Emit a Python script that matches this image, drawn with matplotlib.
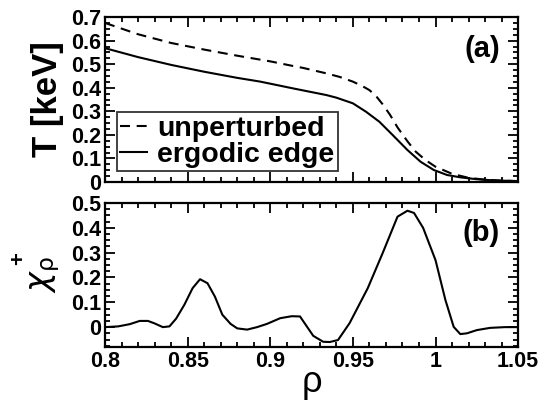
import matplotlib
matplotlib.use("Agg")
import matplotlib.pyplot as plt
from matplotlib.ticker import MultipleLocator

plt.rcParams['font.family'] = ['Liberation Sans', 'DejaVu Sans']
plt.rcParams['font.weight'] = 'normal'
plt.rcParams['mathtext.fontset'] = 'dejavusans'

# Panel (a): temperature profiles
rho_unpert = [0.80, 0.82, 0.84, 0.86, 0.88, 0.90, 0.914, 0.92, 0.934, 0.942, 0.95, 0.956,
              0.960, 0.964, 0.968, 0.9725, 0.977, 0.983, 0.988, 0.994, 1.00, 1.01, 1.02,
              1.03, 1.04, 1.05]
T_unpert = [0.675, 0.627, 0.590, 0.562, 0.536, 0.512, 0.492, 0.484, 0.461, 0.446, 0.426, 0.406,
            0.390, 0.365, 0.330, 0.285, 0.232, 0.173, 0.129, 0.093, 0.065, 0.035, 0.018,
            0.010, 0.006, 0.004]
rho_ergodic = [0.80, 0.82, 0.84, 0.86, 0.88, 0.894, 0.914, 0.934, 0.94, 0.95, 0.958,
               0.966, 0.974, 0.983, 0.991, 0.999, 1.007, 1.015, 1.025, 1.035, 1.05]
T_ergodic = [0.568, 0.530, 0.497, 0.468, 0.442, 0.426, 0.397, 0.369, 0.358, 0.334, 0.298,
             0.256, 0.200, 0.136, 0.086, 0.051, 0.030, 0.020, 0.012, 0.007, 0.004]

# Panel (b): chi_rho^+
rho_chi = [0.800, 0.808, 0.815, 0.821, 0.826, 0.830, 0.835, 0.839, 0.843, 0.848, 0.853,
           0.8575, 0.862, 0.8665, 0.871, 0.876, 0.880, 0.886, 0.892, 0.898, 0.906, 0.913,
           0.918, 0.926, 0.932, 0.936, 0.941, 0.948, 0.959, 0.968, 0.977, 0.983, 0.987,
           0.9925, 1.000, 1.006, 1.011, 1.015, 1.019, 1.025, 1.033, 1.042, 1.050]
chi = [0.000, 0.003, 0.012, 0.025, 0.025, 0.015, 0.000, 0.003, 0.034, 0.090, 0.157,
       0.193, 0.177, 0.123, 0.050, 0.013, -0.005, -0.010, 0.000, 0.013, 0.036, 0.044,
       0.043, -0.035, -0.059, -0.060, -0.052, 0.016, 0.157, 0.298, 0.445, 0.469, 0.460,
       0.400, 0.270, 0.109, 0.001, -0.028, -0.025, -0.012, -0.003, 0.000, 0.000]

fig = plt.figure(figsize=(5.45, 4.01), dpi=100)
ax1 = fig.add_axes([0.1927, 0.546, 0.758, 0.4115])
ax2 = fig.add_axes([0.1927, 0.1347, 0.758, 0.359])

lw = 1.5
ax1.plot(rho_unpert, T_unpert, color='black', lw=lw, ls=(0, (4.8, 3.2)), label='unperturbed')
ax1.plot(rho_ergodic, T_ergodic, color='black', lw=lw, ls='-', label='ergodic edge')
ax2.plot(rho_chi, chi, color='black', lw=lw)

ax1.set_xlim(0.8, 1.05)
ax1.set_ylim(0, 0.7)
ax2.set_xlim(0.8, 1.05)
ax2.set_ylim(-0.08, 0.5)

for ax in (ax1, ax2):
    ax.xaxis.set_major_locator(MultipleLocator(0.05))
    ax.xaxis.set_minor_locator(MultipleLocator(0.01))
    ax.yaxis.set_major_locator(MultipleLocator(0.1))
    ax.yaxis.set_minor_locator(MultipleLocator(0.025))
    ax.tick_params(which='both', direction='in', top=True, right=True, width=1.3)
    ax.tick_params(which='major', length=7, labelsize=15.5, pad=3)
    ax.tick_params(which='minor', length=3.5)
    for s in ax.spines.values():
        s.set_linewidth(1.6)

ax1.tick_params(labelbottom=False)
ax1.set_yticks([0, 0.1, 0.2, 0.3, 0.4, 0.5, 0.6, 0.7])
ax1.set_yticklabels(['0', '0.1', '0.2', '0.3', '0.4', '0.5', '0.6', '0.7'], fontweight='bold')
ax2.set_yticks([0, 0.1, 0.2, 0.3, 0.4, 0.5])
ax2.set_yticklabels(['0', '0.1', '0.2', '0.3', '0.4', '0.5'], fontweight='bold')
ax2.set_xticks([0.8, 0.85, 0.9, 0.95, 1.0, 1.05])
ax2.set_xticklabels(['0.8', '0.85', '0.9', '0.95', '1', '1.05'], fontweight='bold')

ax1.set_ylabel('T [keV]', fontsize=25, fontweight='bold', labelpad=5)
ax2.set_ylabel(r'$\chi_{\mathrm{\rho}}$', fontsize=24, fontweight='normal', labelpad=6)
fig.text(19 / 545, 1 - 259 / 401, '+', fontsize=16, fontweight='bold',
         ha='center', va='center', rotation=90)
ax2.set_xlabel('ρ', fontsize=26, fontweight='normal', labelpad=-5)

ax1.text(0.956, 0.806, '(a)', transform=ax1.transAxes, ha='right', va='center',
         fontsize=21, fontweight='bold')
ax2.text(0.956, 0.79, '(b)', transform=ax2.transAxes, ha='right', va='center',
         fontsize=21, fontweight='bold')

leg = ax1.legend(loc='lower left', bbox_to_anchor=(0.029, 0.067),
                 prop={'weight': 'bold', 'size': 20.5}, frameon=True, fancybox=False,
                 edgecolor='black', handlelength=0.95, handletextpad=0.35,
                 borderpad=0.12, labelspacing=0.0, borderaxespad=0)
leg.get_frame().set_linewidth(1.3)

fig.savefig('out.png', dpi=100)
